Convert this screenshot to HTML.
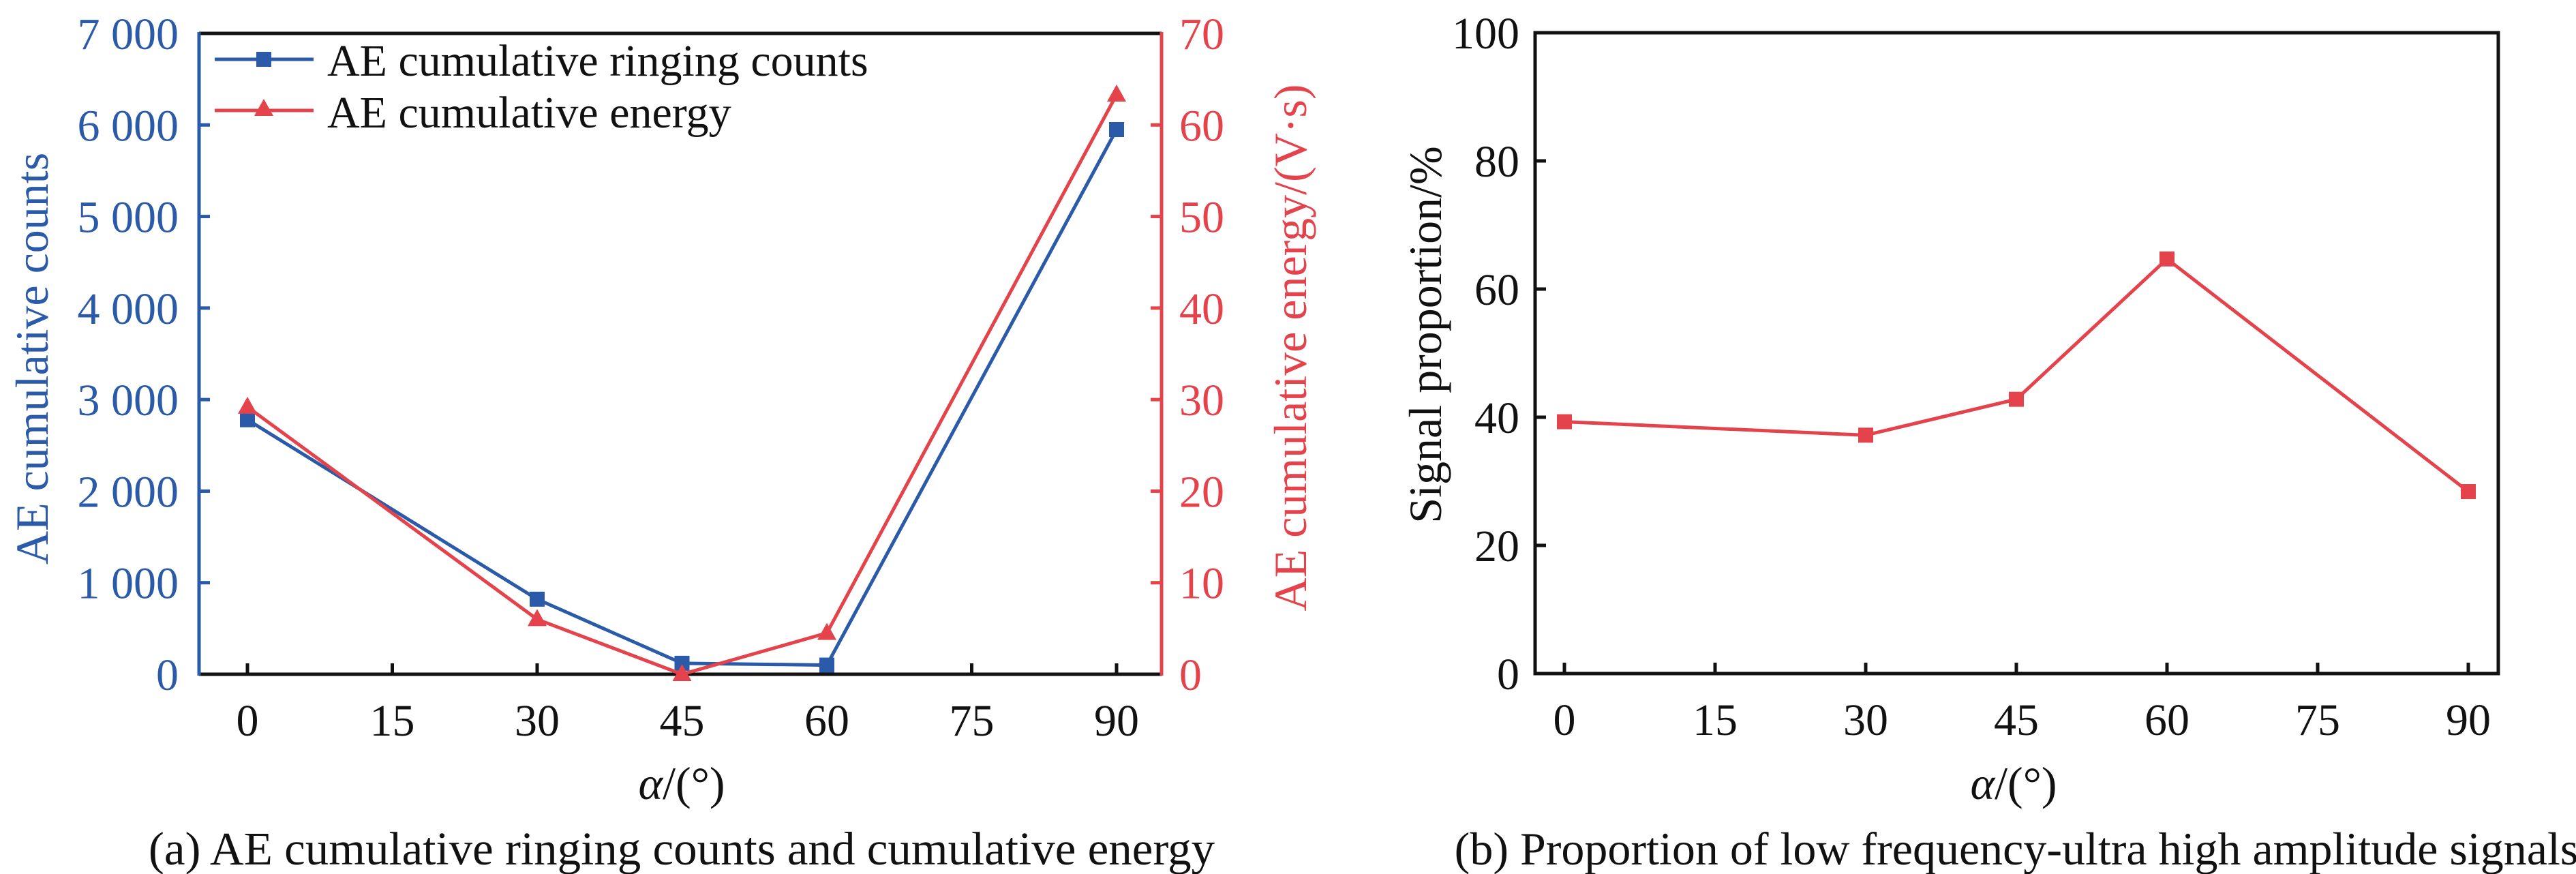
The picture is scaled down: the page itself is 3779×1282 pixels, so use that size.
<!DOCTYPE html>
<html><head><meta charset="utf-8">
<style>
html,body{margin:0;padding:0;background:#fff;}
svg{display:block;font-family:"Liberation Serif","DejaVu Serif",serif;}
</style></head>
<body>
<svg id="fig" width="3779" height="1282" viewBox="0 0 3779 1282" xmlns="http://www.w3.org/2000/svg"></svg>
<script>
// ---- Chart (a) data ----
const anglesA = [0, 30, 45, 60, 90];
const countsA = [2780, 820, 120, 100, 5950];
const energyA = [29.2, 6.0, 0.0, 4.5, 63.3];
const xTicks = [0, 15, 30, 45, 60, 75, 90];
const countTicks = [0, 1000, 2000, 3000, 4000, 5000, 6000, 7000];
const countTickLabels = ["0", "1 000", "2 000", "3 000", "4 000", "5 000", "6 000", "7 000"];
const energyTicks = [0, 10, 20, 30, 40, 50, 60, 70];
// ---- Chart (b) data ----
const anglesB = [0, 30, 45, 60, 90];
const proportionB = [39.3, 37.2, 42.8, 64.7, 28.4];
const propTicks = [0, 20, 40, 60, 80, 100];

const NS = "http://www.w3.org/2000/svg";
const svg = document.getElementById("fig");
const BLUE = "#2a5aa8", RED = "#e4434c", BLACK = "#111";
function mk(tag, attrs, parent) {
  const e = document.createElementNS(NS, tag);
  for (const k in attrs) e.setAttribute(k, attrs[k]);
  (parent || svg).appendChild(e);
  return e;
}
function txt(s, attrs, parent) { const t = mk("text", attrs, parent); t.textContent = s; return t; }

// ===== Chart A =====
const A = {L: 292, R: 1704, T: 49, B: 989, x0: 363, x90: 1638};
const axA = v => A.x0 + (A.x90 - A.x0) * v / 90;
const ayC = v => A.B - (A.B - A.T) * v / 7000;
const ayE = v => A.B - (A.B - A.T) * v / 70;
const gA = mk("g", {});


let e;
e = mk("line", {x1: A.L, y1: A.T, x2: A.R, y2: A.T, stroke: BLACK, "stroke-width": 5}, gA);


e = mk("line", {x1: A.L, y1: A.B, x2: A.R, y2: A.B, stroke: BLACK, "stroke-width": 5}, gA);


e = mk("line", {x1: A.L, y1: A.T - 2, x2: A.L, y2: A.B + 2, stroke: BLUE, "stroke-width": 5}, gA);


e = mk("line", {x1: A.R, y1: A.T - 2, x2: A.R, y2: A.B + 2, stroke: RED, "stroke-width": 5}, gA);


xTicks.forEach(v => {
  const x = axA(v);
  e = mk("line", {x1: x, y1: A.B, x2: x, y2: A.B - 16, stroke: BLACK, "stroke-width": 5}, gA);
  
  
  e = txt(String(v), {x: x, y: A.B + 90, "font-size": 66, "text-anchor": "middle", fill: BLACK}, gA);
  
  
});
countTicks.forEach((v, i) => {
  const y = ayC(v);
  if (i > 0 && i < countTicks.length - 1) {
    e = mk("line", {x1: A.L, y1: y, x2: A.L + 16, y2: y, stroke: BLUE, "stroke-width": 5}, gA);
    
    
  }
  e = txt(countTickLabels[i], {x: 262, y: y + 23, "font-size": 66, "text-anchor": "end", fill: BLUE}, gA);
  
  
});
energyTicks.forEach((v, i) => {
  const y = ayE(v);
  if (i > 0 && i < energyTicks.length - 1) {
    e = mk("line", {x1: A.R, y1: y, x2: A.R - 16, y2: y, stroke: RED, "stroke-width": 5}, gA);
    
    
  }
  e = txt(String(v), {x: 1730, y: y + 23, "font-size": 66, "text-anchor": "start", fill: RED}, gA);
  
  
});
e = txt("AE cumulative counts", {x: 0, y: 0, "font-size": 68, "text-anchor": "middle", fill: BLUE, transform: "translate(70,526) rotate(-90)"}, gA);


e = txt("AE cumulative energy/(V·s)", {x: 0, y: 0, "font-size": 68, "text-anchor": "middle", fill: RED, transform: "translate(1916,510) rotate(-90)"}, gA);


e = txt("", {x: 1000, y: 1172, "font-size": 68, "text-anchor": "middle", fill: BLACK}, gA);
e.innerHTML = '<tspan font-style="italic">α</tspan>/(°)';


e = txt("(a) AE cumulative ringing counts and cumulative energy", {x: 1000, y: 1268, "font-size": 69, "text-anchor": "middle", fill: BLACK}, gA);


e = mk("polyline", {points: anglesA.map((a, i) => axA(a) + "," + ayC(countsA[i])).join(" "), fill: "none", stroke: BLUE, "stroke-width": 5}, gA);


anglesA.forEach((a, i) => {
  const m = mk("rect", {x: axA(a) - 11, y: ayC(countsA[i]) - 11, width: 22, height: 22, fill: BLUE}, gA);
  
  
});
e = mk("polyline", {points: anglesA.map((a, i) => axA(a) + "," + ayE(energyA[i])).join(" "), fill: "none", stroke: RED, "stroke-width": 5}, gA);


function tri(x, y, parent) {
  return mk("polygon", {points: `${x},${y - 15} ${x - 14},${y + 10} ${x + 14},${y + 10}`, fill: RED}, parent);
}
anglesA.forEach((a, i) => {
  const m = tri(axA(a), ayE(energyA[i]), gA);
  
  
});
const lg = mk("g", {}, gA);


e = mk("line", {x1: 315, y1: 87, x2: 460, y2: 87, stroke: BLUE, "stroke-width": 5}, lg);


e = mk("rect", {x: 376, y: 76, width: 22, height: 22, fill: BLUE}, lg);


e = txt("AE cumulative ringing counts", {x: 480, y: 111, "font-size": 66, fill: BLACK}, lg);


e = mk("line", {x1: 315, y1: 162, x2: 460, y2: 162, stroke: RED, "stroke-width": 5}, lg);


e = tri(387, 160, lg);


e = txt("AE cumulative energy", {x: 480, y: 187, "font-size": 66, fill: BLACK}, lg);



// ===== Chart B =====
const B = {L: 2252, R: 3665, T: 48, B: 988, x0: 2295, x90: 3621};
const bx = v => B.x0 + (B.x90 - B.x0) * v / 90;
const by = v => B.B - (B.B - B.T) * v / 100;
const gB = mk("g", {});


e = mk("rect", {x: B.L, y: B.T, width: B.R - B.L, height: B.B - B.T, fill: "none", stroke: BLACK, "stroke-width": 5}, gB);


xTicks.forEach(v => {
  const x = bx(v);
  e = mk("line", {x1: x, y1: B.B, x2: x, y2: B.B - 16, stroke: BLACK, "stroke-width": 5}, gB);
  
  
  e = txt(String(v), {x: x, y: B.B + 90, "font-size": 66, "text-anchor": "middle", fill: BLACK}, gB);
  
  
});
propTicks.forEach((v, i) => {
  const y = by(v);
  if (i > 0 && i < propTicks.length - 1) {
    e = mk("line", {x1: B.L, y1: y, x2: B.L + 16, y2: y, stroke: BLACK, "stroke-width": 5}, gB);
    
    
  }
  e = txt(String(v), {x: 2229, y: y + 23, "font-size": 66, "text-anchor": "end", fill: BLACK}, gB);
  
  
});
e = txt("Signal proportion/%", {x: 0, y: 0, "font-size": 68, "text-anchor": "middle", fill: BLACK, transform: "translate(2114,491) rotate(-90)"}, gB);


e = txt("", {x: 2954, y: 1172, "font-size": 68, "text-anchor": "middle", fill: BLACK}, gB);
e.innerHTML = '<tspan font-style="italic">α</tspan>/(°)';


e = txt("(b) Proportion of low frequency-ultra high amplitude signals", {x: 2958, y: 1268, "font-size": 68, "text-anchor": "middle", fill: BLACK}, gB);


e = mk("polyline", {points: anglesB.map((a, i) => bx(a) + "," + by(proportionB[i])).join(" "), fill: "none", stroke: RED, "stroke-width": 5}, gB);


anglesB.forEach((a, i) => {
  const m = mk("rect", {x: bx(a) - 11, y: by(proportionB[i]) - 11, width: 22, height: 22, fill: RED}, gB);
  
  
});
</script>
</body></html>
